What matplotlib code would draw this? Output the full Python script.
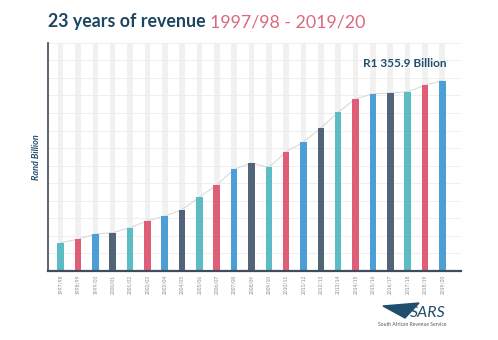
import matplotlib.pyplot as plt
from matplotlib.patches import Polygon
import numpy as np

# revenue per fiscal year (R billion)
years = ['1997/98', '1998/99', '1999/00', '2000/01', '2001/02', '2002/03', '2003/04',
         '2004/05', '2005/06', '2006/07', '2007/08', '2008/09', '2009/10', '2010/11',
         '2011/12', '2012/13', '2013/14', '2014/15', '2015/16', '2016/17', '2017/18',
         '2018/19', '2019/20']
revenue = [199, 223, 261, 270, 306, 354, 389, 434, 525, 611, 723, 768, 737, 847,
           918, 1018, 1130, 1227, 1261, 1268, 1277, 1323, 1355.9]
palette = ['#5bbcc3', '#e05d78', '#4b9fd6', '#526478']

plt.rcParams['font.family'] = ['Lato', 'DejaVu Sans']

W, H = 498, 340
fig = plt.figure(figsize=(W/100, H/100), dpi=100)
ax = fig.add_axes([48/W, 69.5/H, 413/W, 227.5/H])

x = np.arange(len(years))
ymax = 1625
# grey background columns
ax.bar(x, [ymax]*len(x), width=0.32, color='#f1f1f1', zorder=0)
for yy in np.arange(125, ymax + 1, 125):
    ax.axhline(yy, color='#ececec', lw=0.6, zorder=0.5)

cols = [palette[i % 4] for i in range(len(x))]
ax.bar(x, revenue, width=0.38, color=cols, zorder=2)
ax.plot(x, revenue, color='#d6d6d6', lw=0.7, zorder=1)

ax.set_xlim(-0.73, 23.08)
ax.set_ylim(0, ymax)
ax.set_xticks(x)
ax.set_xticklabels(years, rotation=90, fontsize=3.5, color='#8a8a8a')
ax.tick_params(axis='x', length=0, pad=3)
ax.set_yticks([])
for s in ['top', 'right']:
    ax.spines[s].set_visible(False)
ax.spines['left'].set_color('#4a5868')
ax.spines['left'].set_linewidth(1.3)
ax.spines['bottom'].set_color('#3f4d5c')
ax.spines['bottom'].set_linewidth(1.6)

ax.set_ylabel('Rand Billion', fontsize=6.5, color='#1f4e6e', style='italic',
              fontweight='bold', labelpad=5)

ax.text(22.25, 1480, 'R1 355.9 Billion', fontsize=8.5, color='#1f4e6e',
        fontweight='bold', ha='right', va='center')

# title in two colours
t1 = fig.text(48/W, 1 - 27/H, '23 years of revenue ', fontsize=12.8,
              fontweight='bold', color='#1c4563', va='baseline')
fig.canvas.draw()
bb = t1.get_window_extent()
fig.text(bb.x1 / fig.bbox.width, 1 - 27/H, '1997/98 - 2019/20', fontsize=12.8,
         color='#d9687f', va='baseline')

# SARS logo
wedge = Polygon([(383/W, 1 - 306/H), (419/W, 1 - 303/H), (405/W, 1 - 318/H)],
                closed=True, transform=fig.transFigure, color='#1f4e6e')
fig.patches.append(wedge)
fig.text(446/W, 1 - 317/H, 'SARS', fontsize=11.5, color='#1f4e6e',
         style='italic', ha='right', va='baseline')
fig.text(446/W, 1 - 326/H, 'South African Revenue Service', fontsize=3.6,
         color='#555555', ha='right', va='baseline')

fig.savefig('out.png', dpi=100)
